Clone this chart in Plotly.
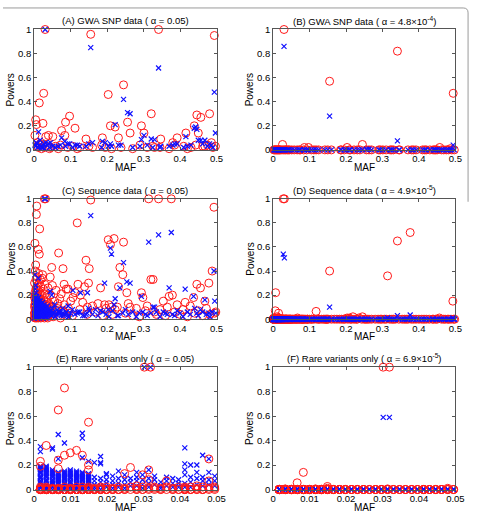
import plotly.graph_objects as go

# ---------------- GWA SNP data (panels A, B) ----------------
maf_gwa = [
    0.030, 0.155, 0.341, 0.494, 0.026, 0.014, 0.004, 0.006, 0.024, 0.002,
    0.097, 0.086, 0.075, 0.084, 0.112, 0.032, 0.039, 0.051, 0.203, 0.245,
    0.209, 0.222, 0.256, 0.263, 0.231, 0.187, 0.142, 0.321, 0.294, 0.301,
    0.347, 0.392, 0.416, 0.439, 0.446, 0.457, 0.481, 0.450, 0.380, 0.486,
    0.330, 0.468, 0.443, 0.497, 0.008, 0.012, 0.018, 0.020, 0.035, 0.045,
    0.058, 0.066, 0.072, 0.092, 0.105, 0.118, 0.125, 0.150, 0.160, 0.185,
    0.195, 0.212, 0.238, 0.270, 0.290, 0.310, 0.325, 0.345, 0.370, 0.385,
    0.410, 0.420, 0.430, 0.462, 0.475, 0.490, 0.010, 0.016, 0.028, 0.042,
]
red_A = [
    1.00, 0.96, 1.00, 0.95, 0.47, 0.39, 0.25, 0.21, 0.22, 0.12,
    0.28, 0.23, 0.16, 0.12, 0.18, 0.11, 0.12, 0.11, 0.46, 0.54,
    0.20, 0.19, 0.23, 0.14, 0.10, 0.10, 0.09, 0.30, 0.20, 0.14,
    0.09, 0.10, 0.14, 0.20, 0.29, 0.27, 0.30, 0.14, 0.06, 0.06,
    0.02, 0.03, 0.04, 0.03, 0.03, 0.02, 0.04, 0.01, 0.03, 0.02,
    0.03, 0.01, 0.04, 0.02, 0.03, 0.01, 0.02, 0.03, 0.02, 0.04,
    0.02, 0.01, 0.02, 0.01, 0.04, 0.02, 0.03, 0.02, 0.01, 0.04,
    0.03, 0.01, 0.02, 0.03, 0.04, 0.02, 0.06, 0.05, 0.02, 0.01,
]
blue_A = [
    1.00, 0.85, 0.68, 0.48, 0.05, 0.04, 0.03, 0.06, 0.02, 0.04,
    0.05, 0.03, 0.10, 0.07, 0.04, 0.06, 0.05, 0.03, 0.03, 0.42,
    0.05, 0.21, 0.31, 0.30, 0.04, 0.07, 0.03, 0.09, 0.085, 0.12,
    0.03, 0.05, 0.11, 0.18, 0.17, 0.08, 0.05, 0.08, 0.04, 0.04,
    0.085, 0.08, 0.19, 0.14, 0.05, 0.15, 0.03, 0.02, 0.04, 0.06,
    0.02, 0.03, 0.04, 0.05, 0.02, 0.04, 0.03, 0.05, 0.06, 0.02,
    0.06, 0.03, 0.04, 0.02, 0.03, 0.04, 0.02, 0.02, 0.03, 0.05,
    0.02, 0.03, 0.04, 0.05, 0.03, 0.02, 0.02, 0.08, 0.01, 0.02,
]
red_B = [
    1.00, 0.57, 0.82, 0.47, 0.045, 0, 0, 0, 0, 0,
    0.02, 0.02, 0, 0, 0, 0, 0, 0, 0.02, 0.045,
    0, 0, 0, 0, 0, 0, 0, 0, 0, 0,
    0, 0, 0, 0, 0, 0.02, 0, 0, 0, 0.01,
    0, 0, 0, 0, 0, 0, 0, 0, 0, 0,
    0, 0, 0, 0, 0, 0, 0, 0, 0, 0,
    0, 0, 0, 0, 0, 0, 0, 0, 0, 0,
    0, 0, 0, 0, 0, 0, 0, 0, 0, 0,
]
blue_B = [
    0.86, 0.28, 0.075, 0.04, 0, 0, 0, 0, 0, 0,
    0, 0, 0, 0, 0, 0, 0, 0, 0, 0,
    0, 0, 0.005, 0.005, 0, 0, 0, 0, 0, 0,
    0, 0, 0, 0, 0, 0, 0, 0, 0, 0,
    0, 0, 0, 0, 0, 0, 0, 0, 0, 0,
    0, 0, 0, 0, 0, 0, 0, 0, 0, 0,
    0, 0, 0, 0, 0, 0, 0, 0, 0, 0,
    0, 0, 0, 0, 0, 0, 0, 0, 0, 0,
]

# ---------------- Sequence data (panels C, D) ----------------
maf_seq = [
    0.028, 0.031, 0.155, 0.314, 0.341, 0.376, 0.493, 0.007, 0.006, 0.015,
    0.118, 0.002, 0.011, 0.014, 0.004, 0.048, 0.067, 0.079, 0.142, 0.151,
    0.203, 0.209, 0.212, 0.219, 0.245, 0.235, 0.243, 0.320, 0.326, 0.488,
    0.023, 0.017, 0.029, 0.149, 0.138, 0.120, 0.082, 0.093, 0.182, 0.231,
    0.254, 0.263, 0.294, 0.298, 0.370, 0.379, 0.446, 0.456, 0.479, 0.414,
    0.437, 0.468, 0.354, 0.193, 0.222, 0.495, 0.330, 0.044, 0.146, 0.127,
    0.106, 0.001, 0.001, 0.002, 0.002, 0.003, 0.003, 0.004, 0.004, 0.005,
    0.005, 0.006, 0.006, 0.007, 0.008, 0.008, 0.009, 0.010, 0.010, 0.011,
    0.012, 0.012, 0.013, 0.014, 0.015, 0.016, 0.017, 0.018, 0.019, 0.020,
    0.021, 0.022, 0.024, 0.025, 0.026, 0.027, 0.030, 0.032, 0.034, 0.036,
    0.038, 0.040, 0.042, 0.045, 0.048, 0.050, 0.053, 0.056, 0.060, 0.063,
    0.066, 0.070, 0.074, 0.078, 0.083, 0.088, 0.095, 0.100, 0.105, 0.112,
    0.125, 0.133, 0.145, 0.160, 0.168, 0.175, 0.188, 0.197, 0.205, 0.215,
    0.228, 0.250, 0.258, 0.270, 0.280, 0.288, 0.305, 0.310, 0.335, 0.345,
    0.360, 0.365, 0.385, 0.392, 0.400, 0.408, 0.420, 0.428, 0.440, 0.450,
    0.462, 0.472, 0.482, 0.498, 0.001, 0.002, 0.003, 0.004, 0.005, 0.006,
    0.007, 0.008, 0.009, 0.011, 0.013, 0.014, 0.016, 0.018, 0.020, 0.022,
    0.025, 0.028, 0.033, 0.037, 0.003, 0.009, 0.012, 0.019, 0.023, 0.035,
    0.0005, 0.0015, 0.0025, 0.0035, 0.0045, 0.0055, 0.0065, 0.0075, 0.0085, 0.0095,
    0.0105, 0.0115, 0.0125, 0.0135, 0.0145, 0.0155, 0.0165, 0.0175, 0.0185, 0.0195,
    0.0205, 0.0215, 0.0235, 0.0255, 0.0275, 0.0295, 0.0315, 0.0345, 0.0375, 0.0405,
    0.0435, 0.0465, 0.0520, 0.0580, 0.0650, 0.0720, 0.0800, 0.0870, 0.0940, 0.0010,
]
red_C = [
    1.00, 1.00, 0.99, 1.00, 1.00, 1.00, 0.93, 0.94, 0.87, 0.75,
    0.80, 0.63, 0.58, 0.54, 0.45, 0.43, 0.55, 0.42, 0.49, 0.42,
    0.66, 0.62, 0.10, 0.67, 0.64, 0.43, 0.37, 0.33, 0.33, 0.40,
    0.37, 0.33, 0.29, 0.30, 0.27, 0.29, 0.29, 0.25, 0.26, 0.27,
    0.22, 0.10, 0.22, 0.18, 0.19, 0.20, 0.29, 0.26, 0.30, 0.14,
    0.18, 0.15, 0.15, 0.12, 0.08, 0.05, 0.06, 0.35, 0.10, 0.20,
    0.18, 0.30, 0.10, 0.22, 0.05, 0.40, 0.15, 0.18, 0.02, 0.33,
    0.08, 0.26, 0.04, 0.20, 0.35, 0.12, 0.28, 0.18, 0.03, 0.24,
    0.38, 0.10, 0.16, 0.30, 0.07, 0.22, 0.12, 0.27, 0.05, 0.20,
    0.14, 0.34, 0.09, 0.25, 0.16, 0.06, 0.21, 0.11, 0.18, 0.08,
    0.26, 0.13, 0.04, 0.20, 0.10, 0.28, 0.06, 0.15, 0.24, 0.09,
    0.03, 0.17, 0.21, 0.07, 0.12, 0.25, 0.05, 0.15, 0.03, 0.22,
    0.08, 0.14, 0.04, 0.11, 0.06, 0.13, 0.03, 0.09, 0.12, 0.04,
    0.10, 0.05, 0.13, 0.03, 0.09, 0.02, 0.07, 0.11, 0.04, 0.08,
    0.03, 0.10, 0.06, 0.12, 0.04, 0.08, 0.02, 0.11, 0.05, 0.07,
    0.03, 0.09, 0.04, 0.06, 0.02, 0.01, 0.03, 0.06, 0.02, 0.01,
    0.04, 0.02, 0.06, 0.01, 0.04, 0.02, 0.05, 0.01, 0.03, 0.02,
    0.04, 0.01, 0.02, 0.01, 0.12, 0.10, 0.06, 0.15, 0.08, 0.14,
    0.05, 0.12, 0.20, 0.08, 0.25, 0.03, 0.16, 0.10, 0.22, 0.04,
    0.14, 0.02, 0.19, 0.06, 0.11, 0.03, 0.17, 0.08, 0.02, 0.13,
    0.05, 0.09, 0.12, 0.02, 0.10, 0.04, 0.07, 0.12, 0.03, 0.09,
    0.06, 0.11, 0.02, 0.08, 0.13, 0.01, 0.06, 0.03, 0.09, 0.18,
]
blue_C = [
    1.00, 1.00, 0.86, 0.64, 0.70, 0.72, 0.40, 0.12, 0.10, 0.08,
    0.05, 0.37, 0.34, 0.15, 0.28, 0.20, 0.06, 0.05, 0.04, 0.07,
    0.08, 0.59, 0.54, 0.12, 0.47, 0.26, 0.05, 0.05, 0.10, 0.06,
    0.14, 0.12, 0.10, 0.09, 0.03, 0.06, 0.04, 0.11, 0.07, 0.03,
    0.31, 0.30, 0.19, 0.06, 0.26, 0.04, 0.05, 0.08, 0.05, 0.25,
    0.19, 0.16, 0.06, 0.30, 0.17, 0.15, 0.10, 0.23, 0.22, 0.22,
    0.24, 0.20, 0.08, 0.15, 0.03, 0.25, 0.10, 0.18, 0.05, 0.22,
    0.12, 0.16, 0.02, 0.19, 0.13, 0.07, 0.17, 0.11, 0.04, 0.14,
    0.09, 0.18, 0.06, 0.12, 0.10, 0.08, 0.15, 0.05, 0.11, 0.09,
    0.13, 0.06, 0.10, 0.04, 0.08, 0.12, 0.07, 0.09, 0.05, 0.11,
    0.06, 0.08, 0.04, 0.07, 0.03, 0.09, 0.05, 0.12, 0.04, 0.08,
    0.06, 0.05, 0.03, 0.09, 0.04, 0.06, 0.02, 0.05, 0.08, 0.04,
    0.06, 0.03, 0.05, 0.04, 0.08, 0.03, 0.06, 0.04, 0.02, 0.07,
    0.03, 0.08, 0.04, 0.06, 0.02, 0.05, 0.04, 0.03, 0.06, 0.02,
    0.05, 0.04, 0.03, 0.07, 0.05, 0.02, 0.06, 0.04, 0.09, 0.03,
    0.06, 0.04, 0.02, 0.05, 0.01, 0.06, 0.02, 0.09, 0.05, 0.08,
    0.03, 0.10, 0.01, 0.06, 0.02, 0.09, 0.03, 0.07, 0.02, 0.05,
    0.01, 0.04, 0.02, 0.03, 0.13, 0.15, 0.11, 0.07, 0.03, 0.01,
    0.14, 0.18, 0.11, 0.16, 0.09, 0.13, 0.15, 0.06, 0.12, 0.08,
    0.10, 0.13, 0.05, 0.11, 0.07, 0.12, 0.04, 0.09, 0.13, 0.06,
    0.08, 0.11, 0.07, 0.09, 0.06, 0.08, 0.05, 0.07, 0.04, 0.06,
    0.05, 0.03, 0.06, 0.02, 0.04, 0.06, 0.03, 0.05, 0.02, 0.04,
]
red_D = [
    1.00, 1.00, 0.40, 0.36, 0.65, 0.72, 0.15, 0.22, 0.07, 0.05,
    0.065, 0.01, 0.02, 0.01, 0, 0, 0.01, 0, 0, 0,
    0.01, 0.01, 0, 0.02, 0.02, 0.01, 0, 0, 0, 0,
    0, 0, 0, 0, 0, 0, 0, 0, 0, 0,
    0, 0, 0, 0, 0, 0, 0, 0.01, 0, 0,
    0, 0, 0, 0, 0, 0, 0, 0, 0, 0,
    0, 0, 0, 0, 0, 0, 0, 0, 0, 0,
    0, 0, 0, 0, 0, 0, 0, 0, 0, 0,
    0, 0, 0, 0, 0, 0, 0, 0, 0, 0,
    0, 0, 0, 0, 0, 0, 0, 0, 0, 0,
    0, 0, 0, 0, 0, 0, 0, 0, 0, 0,
    0, 0, 0, 0, 0, 0, 0, 0, 0, 0,
    0, 0, 0, 0, 0, 0, 0, 0, 0, 0,
    0, 0, 0, 0, 0, 0, 0, 0, 0, 0,
    0, 0, 0, 0, 0, 0, 0, 0, 0, 0,
    0, 0, 0, 0, 0, 0, 0, 0, 0, 0,
    0, 0, 0, 0, 0, 0, 0, 0, 0, 0,
    0, 0, 0, 0, 0, 0, 0, 0, 0, 0,
    0, 0, 0, 0, 0, 0, 0, 0, 0, 0,
    0, 0, 0, 0, 0, 0, 0, 0, 0, 0,
    0, 0, 0, 0, 0, 0, 0, 0, 0, 0,
    0, 0, 0, 0, 0, 0, 0, 0, 0, 0,
]
blue_D = [
    0.54, 0.51, 0.10, 0.01, 0.03, 0.035, 0.01, 0, 0, 0,
    0, 0, 0, 0, 0, 0, 0, 0, 0, 0,
    0, 0, 0, 0, 0, 0, 0, 0, 0, 0,
    0, 0, 0, 0, 0, 0, 0, 0, 0, 0,
    0, 0, 0, 0, 0, 0, 0, 0, 0, 0,
    0, 0, 0, 0, 0, 0, 0, 0, 0, 0,
    0, 0, 0, 0, 0, 0, 0, 0, 0, 0,
    0, 0, 0, 0, 0, 0, 0, 0, 0, 0,
    0, 0, 0, 0, 0, 0, 0, 0, 0, 0,
    0, 0, 0, 0, 0, 0, 0, 0, 0, 0,
    0, 0, 0, 0, 0, 0, 0, 0, 0, 0,
    0, 0, 0, 0, 0, 0, 0, 0, 0, 0,
    0, 0, 0, 0, 0, 0, 0, 0, 0, 0,
    0, 0, 0, 0, 0, 0, 0, 0, 0, 0,
    0, 0, 0, 0, 0, 0, 0, 0, 0, 0,
    0, 0, 0, 0, 0, 0, 0, 0, 0, 0,
    0, 0, 0, 0, 0, 0, 0, 0, 0, 0,
    0, 0, 0, 0, 0, 0, 0, 0, 0, 0,
    0, 0, 0, 0, 0, 0, 0, 0, 0, 0,
    0, 0, 0, 0, 0, 0, 0, 0, 0, 0,
    0, 0, 0, 0, 0, 0, 0, 0, 0, 0,
    0, 0, 0, 0, 0, 0, 0, 0, 0, 0,
]

# ---------------- Rare variants only (panels E, F) ----------------
maf_rare = [
    0.0017, 0.0017, 0.0017, 0.0017, 0.0017, 0.0017, 0.0017, 0.0017, 0.0017, 0.0017, 0.0017, 0.0017,
    0.0033, 0.0033, 0.0033, 0.0033, 0.0033, 0.0033, 0.0033, 0.0033, 0.0033, 0.0033, 0.0033, 0.0033,
    0.0050, 0.0050, 0.0050, 0.0050, 0.0050, 0.0050, 0.0050, 0.0050, 0.0050, 0.0050, 0.0050,
    0.0066, 0.0066, 0.0066, 0.0066, 0.0066, 0.0066, 0.0066, 0.0066, 0.0066, 0.0066,
    0.0083, 0.0083, 0.0083, 0.0083, 0.0083, 0.0083, 0.0083, 0.0083, 0.0083,
    0.0099, 0.0099, 0.0099, 0.0099, 0.0099, 0.0099, 0.0099, 0.0099,
    0.0116, 0.0116, 0.0116, 0.0116, 0.0116, 0.0116, 0.0116, 0.0116,
    0.0132, 0.0132, 0.0132, 0.0132, 0.0132, 0.0132, 0.0132, 0.0132, 0.0132, 0.0132,
    0.0149, 0.0149, 0.0149, 0.0149, 0.0149, 0.0149, 0.0149, 0.0149,
    0.0165, 0.0165, 0.0165, 0.0165, 0.0165, 0.0165,
    0.0182, 0.0182, 0.0182, 0.0182, 0.0182, 0.0182, 0.0182,
    0.0198, 0.0198, 0.0198, 0.0198, 0.0198,
    0.0215, 0.0215, 0.0215, 0.0215,
    0.0231, 0.0231, 0.0231, 0.0231,
    0.0248, 0.0248, 0.0248, 0.0248,
    0.0264, 0.0264, 0.0264,
    0.0281, 0.0281, 0.0281, 0.0281,
    0.0297, 0.0297, 0.0297, 0.0297,
    0.0302, 0.0319,
    0.0314, 0.0314, 0.0314, 0.0314,
    0.0330, 0.0330, 0.0330,
    0.0347, 0.0347, 0.0347,
    0.0363, 0.0363, 0.0363,
    0.0380, 0.0380, 0.0380,
    0.0396, 0.0396, 0.0396,
    0.0413, 0.0413, 0.0413, 0.0413, 0.0413, 0.0413,
    0.0429, 0.0429, 0.0429, 0.0429,
    0.0446, 0.0446, 0.0446, 0.0446,
    0.0462, 0.0462, 0.0462, 0.0462,
    0.0479, 0.0479, 0.0479, 0.0479,
    0.0495, 0.0495, 0.0495,
    0.0017, 0.0017, 0.0017, 0.0017, 0.0017, 0.0017,
    0.0033, 0.0033, 0.0033, 0.0033, 0.0033, 0.0033,
    0.0050, 0.0050, 0.0050, 0.0050, 0.0050, 0.0050,
    0.0066, 0.0066, 0.0066, 0.0066, 0.0066, 0.0066,
    0.0083, 0.0083, 0.0083, 0.0083, 0.0083, 0.0083,
    0.0099, 0.0099, 0.0099, 0.0099, 0.0099, 0.0099,
    0.0116, 0.0116, 0.0116, 0.0116, 0.0116, 0.0116,
    0.0132, 0.0132, 0.0132, 0.0132, 0.0132, 0.0132,
    0.0149, 0.0149, 0.0149, 0.0149, 0.0149, 0.0149,
]
blue_E = [
    0.35, 0.31, 0.19, 0.17, 0.15, 0.13, 0.11, 0.09, 0.07, 0.05, 0.03, 0.01,
    0.18, 0.17, 0.16, 0.14, 0.12, 0.10, 0.08, 0.06, 0.04, 0.02, 0.01, 0,
    0.34, 0.33, 0.16, 0.14, 0.12, 0.10, 0.08, 0.06, 0.04, 0.02, 0,
    0.45, 0.25, 0.14, 0.12, 0.10, 0.08, 0.06, 0.04, 0.02, 0,
    0.38, 0.14, 0.12, 0.10, 0.08, 0.06, 0.04, 0.02, 0,
    0.15, 0.13, 0.11, 0.09, 0.07, 0.05, 0.03, 0.01,
    0.14, 0.12, 0.10, 0.08, 0.06, 0.04, 0.02, 0,
    0.46, 0.42, 0.26, 0.13, 0.11, 0.09, 0.07, 0.05, 0.03, 0.01,
    0.23, 0.12, 0.10, 0.08, 0.06, 0.04, 0.02, 0,
    0.22, 0.10, 0.07, 0.04, 0.02, 0,
    0.27, 0.22, 0.21, 0.09, 0.06, 0.03, 0,
    0.13, 0.12, 0.08, 0.05, 0.02,
    0.11, 0.07, 0.04, 0.01,
    0.15, 0.09, 0.05, 0.02,
    0.12, 0.08, 0.04, 0.01,
    0.09, 0.06, 0.03,
    0.14, 0.10, 0.07, 0.03,
    0.12, 0.08, 0.04, 0.01,
    1.00, 1.00,
    0.16, 0.09, 0.05, 0.02,
    0.11, 0.08, 0.04,
    0.06, 0.03, 0.01,
    0.10, 0.07, 0.03,
    0.09, 0.05, 0.02,
    0.08, 0.05, 0.02,
    0.34, 0.21, 0.16, 0.12, 0.05, 0.02,
    0.20, 0.10, 0.06, 0.02,
    0.20, 0.14, 0.09, 0.04,
    0.28, 0.10, 0.07, 0.03,
    0.25, 0.14, 0.08, 0.04,
    0.11, 0.07, 0.03,
    0.18, 0.14, 0.10, 0.06, 0.02, 0.16,
    0.19, 0.15, 0.11, 0.07, 0.03, 0.13,
    0.15, 0.11, 0.07, 0.03, 0.13, 0.05,
    0.13, 0.09, 0.05, 0.01, 0.11, 0.07,
    0.13, 0.09, 0.05, 0.01, 0.11, 0.15,
    0.14, 0.10, 0.06, 0.02, 0.12, 0.16,
    0.13, 0.09, 0.05, 0.01, 0.11, 0.15,
    0.12, 0.08, 0.04, 0.00, 0.10, 0.14,
    0.11, 0.07, 0.03, 0.09, 0.05, 0.13,
]
red_E = [
    0.23, 0.19, 0.02, 0.01, 0, 0, 0, 0, 0, 0, 0, 0,
    0.36, 0.02, 0.01, 0, 0, 0, 0, 0, 0, 0, 0, 0,
    0.01, 0, 0, 0, 0, 0, 0, 0, 0, 0, 0,
    0.65, 0.24, 0.17, 0.01, 0, 0, 0, 0, 0, 0,
    0.83, 0.28, 0.02, 0, 0, 0, 0, 0, 0,
    0.30, 0.01, 0, 0, 0, 0, 0, 0,
    0.32, 0.02, 0, 0, 0, 0, 0, 0,
    0.28, 0.02, 0, 0, 0, 0, 0, 0, 0, 0,
    0.55, 0.20, 0.16, 0.02, 0.01, 0, 0, 0,
    0.01, 0, 0, 0, 0, 0,
    0.02, 0.01, 0, 0, 0, 0, 0,
    0.02, 0, 0, 0, 0,
    0.01, 0, 0, 0,
    0.02, 0, 0, 0,
    0.13, 0.01, 0, 0,
    0.18, 0.02, 0,
    0.03, 0.01, 0, 0,
    0.12, 0.02, 0, 0,
    1.00, 1.00,
    0.16, 0.08, 0.01, 0,
    0.02, 0.01, 0,
    0.01, 0, 0,
    0.07, 0.02, 0,
    0.01, 0, 0,
    0.02, 0, 0,
    0.02, 0.01, 0, 0, 0, 0,
    0.02, 0, 0, 0,
    0.03, 0.01, 0, 0,
    0.02, 0, 0, 0,
    0.25, 0.07, 0.01, 0,
    0.02, 0.01, 0,
    0, 0, 0, 0, 0, 0,
    0, 0, 0, 0, 0, 0,
    0, 0, 0, 0, 0, 0,
    0, 0, 0, 0, 0, 0,
    0, 0, 0, 0, 0, 0,
    0, 0, 0, 0, 0, 0,
    0, 0, 0, 0, 0, 0,
    0, 0, 0, 0, 0, 0,
    0, 0, 0, 0, 0, 0,
]
blue_F = [
    0, 0, 0, 0, 0, 0, 0, 0, 0, 0, 0, 0,
    0, 0, 0, 0, 0, 0, 0, 0, 0, 0, 0, 0,
    0, 0, 0, 0, 0, 0, 0, 0, 0, 0, 0,
    0, 0, 0, 0, 0, 0, 0, 0, 0, 0,
    0, 0, 0, 0, 0, 0, 0, 0, 0,
    0, 0, 0, 0, 0, 0, 0, 0,
    0, 0, 0, 0, 0, 0, 0, 0,
    0, 0, 0, 0, 0, 0, 0, 0, 0, 0,
    0, 0, 0, 0, 0, 0, 0, 0,
    0, 0, 0, 0, 0, 0,
    0, 0, 0, 0, 0, 0, 0,
    0, 0, 0, 0, 0,
    0, 0, 0, 0,
    0, 0, 0, 0,
    0, 0, 0, 0,
    0, 0, 0,
    0, 0, 0, 0,
    0, 0, 0, 0,
    0.59, 0.59,
    0, 0, 0, 0,
    0, 0, 0,
    0, 0, 0,
    0, 0, 0,
    0, 0, 0,
    0, 0, 0,
    0, 0, 0, 0, 0, 0,
    0, 0, 0, 0,
    0, 0, 0, 0,
    0, 0, 0, 0,
    0, 0, 0, 0,
    0, 0, 0,
    0, 0, 0, 0, 0, 0,
    0, 0, 0, 0, 0, 0,
    0, 0, 0, 0, 0, 0,
    0, 0, 0, 0, 0, 0,
    0, 0, 0, 0, 0, 0,
    0, 0, 0, 0, 0, 0,
    0, 0, 0, 0, 0, 0,
    0, 0, 0, 0, 0, 0,
    0, 0, 0, 0, 0, 0,
]
red_F = [
    0, 0, 0, 0, 0, 0, 0, 0, 0, 0, 0, 0,
    0.005, 0, 0, 0, 0, 0, 0, 0, 0, 0, 0, 0,
    0, 0, 0, 0, 0, 0, 0, 0, 0, 0, 0,
    0.055, 0, 0, 0, 0, 0, 0, 0, 0, 0,
    0.14, 0, 0, 0, 0, 0, 0, 0, 0,
    0, 0, 0, 0, 0, 0, 0, 0,
    0.005, 0, 0, 0, 0, 0, 0, 0,
    0, 0, 0, 0, 0, 0, 0, 0, 0, 0,
    0.025, 0.01, 0, 0, 0, 0, 0, 0,
    0, 0, 0, 0, 0, 0,
    0, 0, 0, 0, 0, 0, 0,
    0, 0, 0, 0, 0,
    0, 0, 0, 0,
    0, 0, 0, 0,
    0, 0, 0, 0,
    0, 0, 0,
    0, 0, 0, 0,
    0, 0, 0, 0,
    1.00, 1.00,
    0.005, 0, 0, 0,
    0, 0, 0,
    0, 0, 0,
    0, 0, 0,
    0, 0, 0,
    0, 0, 0,
    0, 0, 0, 0, 0, 0,
    0, 0, 0, 0,
    0, 0, 0, 0,
    0, 0, 0, 0,
    0.01, 0, 0, 0,
    0, 0, 0,
    0, 0, 0, 0, 0, 0,
    0, 0, 0, 0, 0, 0,
    0, 0, 0, 0, 0, 0,
    0, 0, 0, 0, 0, 0,
    0, 0, 0, 0, 0, 0,
    0, 0, 0, 0, 0, 0,
    0, 0, 0, 0, 0, 0,
    0, 0, 0, 0, 0, 0,
    0, 0, 0, 0, 0, 0,
]

# tick labels
ytick_vals = [0, 0.2, 0.4, 0.6, 0.8, 1.0]
ytick_text = ["0", "0.2", "0.4", "0.6", "0.8", "1"]
xtick_vals_common = [0, 0.1, 0.2, 0.3, 0.4, 0.5]
xtick_text_common = ["0", "0.1", "0.2", "0.3", "0.4", "0.5"]
xtick_vals_rare = [0, 0.01, 0.02, 0.03, 0.04, 0.05]
xtick_text_rare = ["0", "0.01", "0.02", "0.03", "0.04", "0.05"]

titles = [
    "(A) GWA SNP data ( α = 0.05)",
    "(B) GWA SNP data ( α = 4.8×10<sup>-4</sup>)",
    "(C) Sequence data ( α = 0.05)",
    "(D) Sequence data ( α = 4.9×10<sup>-5</sup>)",
    "(E) Rare variants only ( α = 0.05)",
    "(F) Rare variants only ( α = 6.9×10<sup>-5</sup>)",
]

W, H = 480, 518
FONT = "Liberation Sans, Arial, Helvetica, sans-serif"
RED = "#ff1a1a"
BLUE = "#1010ff"
AX = "#555555"

# plot-area pixel boxes (left, right) and (top, bottom)
col_px = [(32, 219), (277, 464)]
row_px = [(24, 147), (197, 320), (369, 494)]

panels = [
    (maf_gwa, red_A, blue_A, xtick_vals_common, xtick_text_common, 0.5, False),
    (maf_gwa, red_B, blue_B, xtick_vals_common, xtick_text_common, 0.5, False),
    (maf_seq, red_C, blue_C, xtick_vals_common, xtick_text_common, 0.5, False),
    (maf_seq, red_D, blue_D, xtick_vals_common, xtick_text_common, 0.5, False),
    (maf_rare, red_E, blue_E, xtick_vals_rare, xtick_text_rare, 0.05, True),
    (maf_rare, red_F, blue_F, xtick_vals_rare, xtick_text_rare, 0.05, True),
]

fig = go.Figure()
layout = dict(
    width=W, height=H, margin=dict(l=0, r=0, t=0, b=0),
    paper_bgcolor="white", plot_bgcolor="white", showlegend=False,
    font=dict(family=FONT, size=9, color="black"),
)
annotations = []

for i, (mx, ry, by, xv, xt, xmax, blue_first) in enumerate(panels):
    r, c = divmod(i, 2)
    L, R = col_px[c]
    T, B = row_px[r]
    xa = "x" if i == 0 else f"x{i+1}"
    ya = "y" if i == 0 else f"y{i+1}"
    red_tr = go.Scatter(
        x=mx, y=ry, mode="markers", xaxis=xa, yaxis=ya, cliponaxis=False,
        marker=dict(symbol="circle-open", size=8, color=RED, line=dict(width=1, color=RED)),
        hoverinfo="skip",
    )
    blue_tr = go.Scatter(
        x=mx, y=by, mode="markers", xaxis=xa, yaxis=ya, cliponaxis=False,
        marker=dict(symbol="x-thin-open", size=5, color=BLUE, line=dict(width=1.2, color=BLUE)),
        hoverinfo="skip",
    )
    if blue_first:
        fig.add_trace(blue_tr)
        fig.add_trace(red_tr)
    else:
        fig.add_trace(red_tr)
        fig.add_trace(blue_tr)

    xkey = "xaxis" if i == 0 else f"xaxis{i+1}"
    ykey = "yaxis" if i == 0 else f"yaxis{i+1}"
    common = dict(showgrid=False, zeroline=False, showline=True, linecolor=AX, linewidth=1,
                  mirror="ticks", ticks="inside", ticklen=3, tickcolor=AX, tickwidth=1,
                  tickfont=dict(family=FONT, size=9.5, color="black"), fixedrange=True)
    layout[xkey] = dict(domain=[L / W, R / W], anchor=ya, range=[0, xmax],
                        tickvals=xv, ticktext=xt, **common)
    layout[ykey] = dict(domain=[1 - B / H, 1 - T / H], anchor=xa, range=[0, 1],
                        tickvals=ytick_vals, ticktext=ytick_text, **common)

    cx = (L + R) / 2 / W
    annotations.append(dict(text=titles[i], x=cx, y=1 - (T - 9) / H, xref="paper", yref="paper",
                            xanchor="center", yanchor="middle", showarrow=False,
                            font=dict(family=FONT, size=9.5, color="black")))
    annotations.append(dict(text="MAF", x=cx, y=1 - (B + 18) / H, xref="paper", yref="paper",
                            xanchor="center", yanchor="middle", showarrow=False,
                            font=dict(family=FONT, size=10, color="black")))
    annotations.append(dict(text="Powers", x=(L - 24) / W, y=1 - (T + B) / 2 / H,
                            xref="paper", yref="paper", textangle=-90,
                            xanchor="center", yanchor="middle", showarrow=False,
                            font=dict(family=FONT, size=10, color="black")))

layout["annotations"] = annotations
y2 = 1 - 2 / H
layout["shapes"] = [dict(
    type="path", xref="paper", yref="paper",
    path=(f"M 0,{y2} L {472/W},{y2} Q {477/W},{y2} {477/W},{1-7/H} L {477/W},{1-200/H}"),
    line=dict(color="#9a9a9a", width=1),
)]
fig.update_layout(**layout)
fig.write_html("out.html")
